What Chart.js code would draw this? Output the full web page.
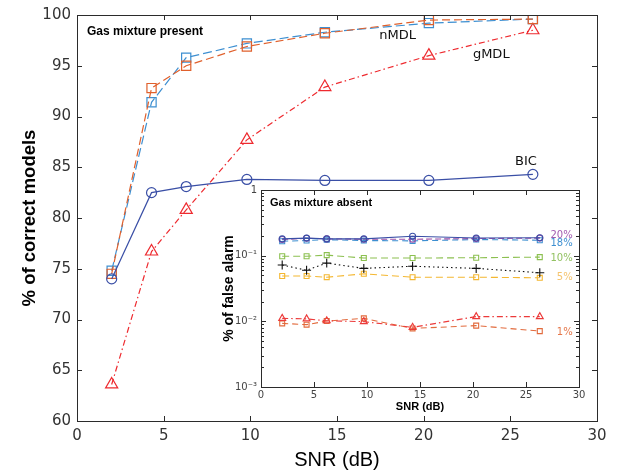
<!DOCTYPE html>
<html>
<head>
<meta charset="utf-8">
<script src="https://cdn.jsdelivr.net/npm/chart.js@4.4.1/dist/chart.umd.min.js"></script>
<style>
  html, body { margin: 0; padding: 0; background: #fff; }
  #wrap { position: relative; width: 617px; height: 473px; }
  #mainChart { position: absolute; left: 0; top: 0; }
  #insetChart { position: absolute; left: 205px; top: 178px; }
</style>
</head>
<body>
<div id="wrap">
  <canvas id="mainChart" width="617" height="473"></canvas>
  <canvas id="insetChart" width="392" height="240"></canvas>
</div>
<script>
// Datos del panel principal (% de modelos correctos)
const snrMain = [2.0, 4.3, 6.3, 9.8, 14.3, 20.3, 26.3];
const bicCorrect = [74.0, 82.5, 83.1, 83.8, 83.7, 83.7, 84.3];
const nmdlCorrect = [74.8, 91.4, 95.8, 97.2, 98.3, 99.2, 99.6];
const mdlCorrect = [74.5, 92.8, 95.0, 96.9, 98.2, 99.5, 99.6];
const gmdlCorrect = [63.6, 76.7, 80.8, 87.7, 92.9, 96.0, 98.5];
const mainXTicks = [0, 5, 10, 15, 20, 25, 30];
const mainYTicks = [60, 65, 70, 75, 80, 85, 90, 95, 100];

// Datos del recuadro (% de falsa alarma)
const snrInset = [2.0, 4.3, 6.2, 9.7, 14.3, 20.3, 26.3];
const faBic = [0.180, 0.185, 0.180, 0.180, 0.198, 0.186, 0.187];
const fa20 = [0.176, 0.184, 0.180, 0.178, 0.178, 0.182, 0.185];
const fa18 = [0.166, 0.170, 0.175, 0.170, 0.168, 0.176, 0.172];
const fa10 = [0.098, 0.098, 0.102, 0.092, 0.092, 0.093, 0.095];
const faPlus = [0.072, 0.060, 0.077, 0.064, 0.069, 0.064, 0.055];
const fa5 = [0.049, 0.049, 0.047, 0.053, 0.047, 0.047, 0.046];
const faGmdl = [0.0111, 0.0109, 0.0102, 0.0099, 0.0081, 0.0118, 0.0118];
const fa1 = [0.0093, 0.0089, 0.0101, 0.0111, 0.0078, 0.0086, 0.0071];
const insetXTicks = [0, 5, 10, 15, 20, 25, 30];
const insetYTicks = [0.001, 0.01, 0.1, 1];

// Etiquetas de curvas
const mainLabels = [
  { text: 'nMDL', x: 18.5, y: 98.0 },
  { text: 'gMDL', x: 23.9, y: 96.1 },
  { text: 'BIC', x: 25.9, y: 85.6 }
];
const insetLabels = [
  { text: '20%', x: 29.4, y: 0.206, color: '#a35bb0' },
  { text: '18%', x: 29.4, y: 0.156, color: '#3d8fd1' },
  { text: '10%', x: 29.4, y: 0.092, color: '#93c262' },
  { text: '5%', x: 29.4, y: 0.047, color: '#f5c46e' },
  { text: '1%', x: 29.4, y: 0.0069, color: '#e5774a' }
];

function pts(xs, ys) {
  return xs.map((x, i) => ({ x: x, y: ys[i] }));
}

// Marco con marcas hacia dentro, fondo blanco y textos
const framePlugin = {
  id: 'frame',
  beforeDraw(chart, args, opts) {
    const a = chart.chartArea;
    const ctx = chart.ctx;
    ctx.save();
    ctx.fillStyle = '#fff';
    ctx.fillRect(a.left, a.top, a.width, a.height);
    ctx.restore();
  },
  afterDatasetsDraw(chart, args, opts) {
    const { ctx, chartArea: a, scales: { x, y } } = chart;
    const L = opts.tickLen;
    ctx.save();
    ctx.strokeStyle = '#2b2b2b';
    ctx.lineWidth = 1;
    ctx.strokeRect(Math.round(a.left) + 0.5, Math.round(a.top) + 0.5, Math.round(a.width), Math.round(a.height));
    ctx.beginPath();
    x.ticks.forEach(t => {
      const px = Math.round(x.getPixelForValue(t.value)) + 0.5;
      ctx.moveTo(px, a.bottom); ctx.lineTo(px, a.bottom - L);
      ctx.moveTo(px, a.top); ctx.lineTo(px, a.top + L);
    });
    y.ticks.forEach(t => {
      const py = Math.round(y.getPixelForValue(t.value)) + 0.5;
      ctx.moveTo(a.left, py); ctx.lineTo(a.left + L, py);
      ctx.moveTo(a.right, py); ctx.lineTo(a.right - L, py);
    });
    if (opts.logMinor) {
      for (let d = -3; d < 0; d++) {
        for (let m = 2; m <= 9; m++) {
          const py = Math.round(y.getPixelForValue(m * Math.pow(10, d))) + 0.5;
          ctx.moveTo(a.left, py); ctx.lineTo(a.left + L * 0.6, py);
          ctx.moveTo(a.right, py); ctx.lineTo(a.right - L * 0.6, py);
        }
      }
    }
    ctx.stroke();

    // título interior
    ctx.fillStyle = '#000';
    ctx.font = opts.titleFont;
    ctx.textAlign = 'left';
    ctx.textBaseline = 'middle';
    ctx.fillText(opts.title, a.left + opts.titleDx, a.top + opts.titleDy);

    // etiquetas de curvas
    ctx.font = opts.labelFont;
    ctx.textAlign = opts.labelAlign;
    (opts.labels || []).forEach(l => {
      ctx.fillStyle = l.color || '#111';
      ctx.fillText(l.text, x.getPixelForValue(l.x), y.getPixelForValue(l.y));
    });
    ctx.restore();
  }
};

const tickFont = { family: 'DejaVu Sans', size: 15 };

new Chart(document.getElementById('mainChart'), {
  type: 'line',
  data: {
    datasets: [{
      label: 'BIC',
      data: pts(snrMain, bicCorrect),
      borderColor: '#3a4fa6',
      backgroundColor: 'rgba(0,0,0,0)',
      borderWidth: 1.2,
      pointStyle: 'circle',
      pointRadius: 5,
      pointBorderWidth: 1.2
    }, {
      label: 'MDL',
      data: pts(snrMain, mdlCorrect),
      borderColor: '#e0602c',
      backgroundColor: 'rgba(0,0,0,0)',
      borderWidth: 1.2,
      borderDash: [8, 4],
      pointStyle: 'rect',
      pointRadius: 6.5,
      pointBorderWidth: 1.2
    }, {
      label: 'nMDL',
      data: pts(snrMain, nmdlCorrect),
      borderColor: '#3d8fd1',
      backgroundColor: 'rgba(0,0,0,0)',
      borderWidth: 1.2,
      borderDash: [9, 4],
      pointStyle: 'rect',
      pointRadius: 6.5,
      pointBorderWidth: 1.2
    }, {
      label: 'gMDL',
      data: pts(snrMain, gmdlCorrect),
      borderColor: '#ee2a2f',
      backgroundColor: 'rgba(0,0,0,0)',
      borderWidth: 1.2,
      borderDash: [6, 3, 1.5, 3],
      pointStyle: 'triangle',
      pointRadius: 7,
      pointBorderWidth: 1.2
    }]
  },
  options: {
    responsive: false,
    animation: false,
    devicePixelRatio: 1,
    layout: { padding: { left: 0, top: 13, right: 20, bottom: 0 } },
    plugins: {
      legend: { display: false },
      tooltip: { enabled: false },
      frame: {
        tickLen: 5,
        title: 'Gas mixture present',
        titleFont: 'bold 12px "Liberation Sans"',
        titleDx: 10, titleDy: 17,
        labelFont: '13px "DejaVu Sans"',
        labelAlign: 'center',
        labels: mainLabels
      }
    },
    scales: {
      x: {
        type: 'linear', min: 0, max: 30,
        afterBuildTicks: s => { s.ticks = mainXTicks.map(v => ({ value: v })); },
        afterFit: s => { s.height = 52; },
        grid: { display: false, drawTicks: false },
        border: { display: false },
        ticks: { font: tickFont, color: '#333', padding: 6, maxRotation: 0 },
        title: {
          display: true, text: 'SNR (dB)', color: '#000',
          font: { family: 'Liberation Sans', size: 20 },
          padding: { top: 0, bottom: 1 }
        }
      },
      y: {
        type: 'linear', min: 60, max: 100,
        afterBuildTicks: s => { s.ticks = mainYTicks.map(v => ({ value: v })); },
        afterFit: s => { s.width = 77; },
        grid: { display: false, drawTicks: false },
        border: { display: false },
        ticks: { font: tickFont, color: '#333', padding: 6 },
        title: {
          display: true, text: '% of correct models', color: '#000',
          font: { family: 'Liberation Sans', size: 18.5, weight: 'bold' },
          padding: { top: 19, bottom: 0 }
        }
      }
    }
  },
  plugins: [framePlugin]
});

const insetTickFont = { family: 'DejaVu Sans', size: 10 };
const supers = { '-1': '⁻¹', '-2': '⁻²', '-3': '⁻³' };

function insetSet(label, ys, color, dash, style, r) {
  return {
    label: label,
    data: pts(snrInset, ys),
    borderColor: color,
    backgroundColor: 'rgba(0,0,0,0)',
    borderWidth: 1.1,
    borderDash: dash,
    pointStyle: style,
    pointRadius: r,
    pointBorderWidth: 1.1
  };
}

new Chart(document.getElementById('insetChart'), {
  type: 'line',
  data: {
    datasets: [
      insetSet('BIC', faBic, '#3a4fa6', [], 'circle', 3),
      insetSet('20%', fa20, '#9d4fa8', [6, 3], 'circle', 3),
      insetSet('18%', fa18, '#3d8fd1', [6, 4], 'rect', 3.5),
      insetSet('10%', fa10, '#8cc050', [7, 4], 'rect', 3.5),
      insetSet('plus', faPlus, '#111', [1.5, 3], 'cross', 4.5),
      insetSet('5%', fa5, '#f4b730', [7, 4], 'rect', 3.5),
      insetSet('gMDL', faGmdl, '#ec3a3a', [6, 3, 1.5, 3], 'triangle', 4),
      insetSet('1%', fa1, '#e26a3c', [6, 4], 'rect', 3.5)
    ]
  },
  options: {
    responsive: false,
    animation: false,
    devicePixelRatio: 1,
    layout: { padding: { left: 0, top: 12, right: 18, bottom: 0 } },
    plugins: {
      legend: { display: false },
      tooltip: { enabled: false },
      frame: {
        tickLen: 5,
        logMinor: true,
        title: 'Gas mixture absent',
        titleFont: 'bold 11px "Liberation Sans"',
        titleDx: 9, titleDy: 13,
        labelFont: '10px "DejaVu Sans"',
        labelAlign: 'right',
        labels: insetLabels
      }
    },
    scales: {
      x: {
        type: 'linear', min: 0, max: 30,
        afterBuildTicks: s => { s.ticks = insetXTicks.map(v => ({ value: v })); },
        afterFit: s => { s.height = 31; },
        grid: { display: false, drawTicks: false },
        border: { display: false },
        ticks: { font: insetTickFont, color: '#444', padding: 2, maxRotation: 0 },
        title: {
          display: true, text: 'SNR (dB)', color: '#000',
          font: { family: 'Liberation Sans', size: 11, weight: 'bold' },
          padding: { top: 0, bottom: 4 }
        }
      },
      y: {
        type: 'logarithmic', min: 0.001, max: 1,
        afterBuildTicks: s => { s.ticks = insetYTicks.map(v => ({ value: v })); },
        afterFit: s => { s.width = 56; },
        grid: { display: false, drawTicks: false },
        border: { display: false },
        ticks: {
          font: insetTickFont, color: '#444', padding: 4,
          callback: v => {
            const e = Math.round(Math.log10(v));
            return e === 0 ? '1' : '10' + supers[String(e)];
          }
        },
        title: {
          display: true, text: '% of false alarm', color: '#000',
          font: { family: 'Liberation Sans', size: 14, weight: 'bold' },
          padding: { top: 16, bottom: 0 }
        }
      }
    }
  },
  plugins: [framePlugin]
});
</script>
</body>
</html>
